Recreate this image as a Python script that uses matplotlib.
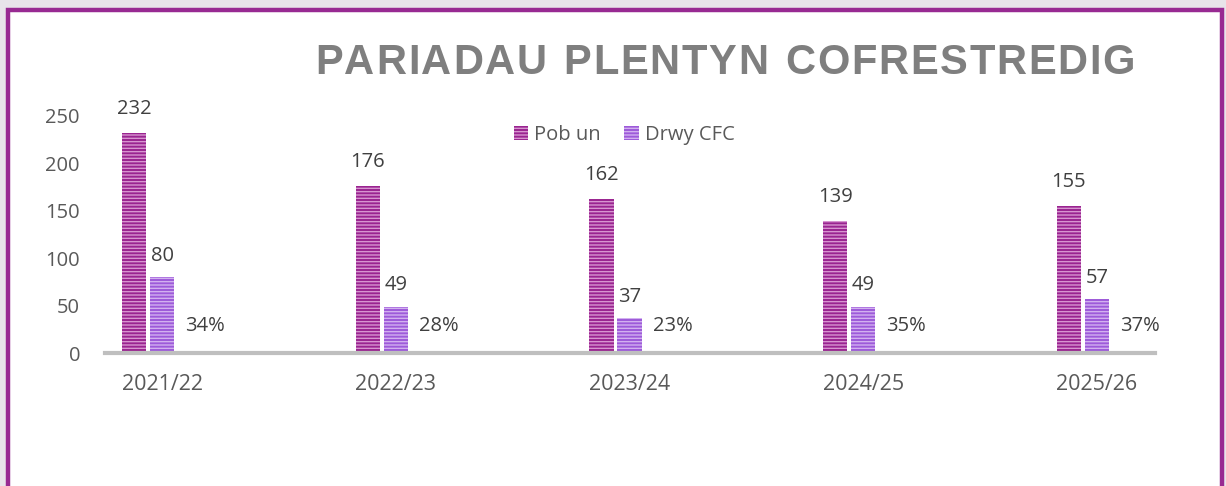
import matplotlib
matplotlib.use("Agg")
import matplotlib.pyplot as plt
from matplotlib.patches import Rectangle
import numpy as np

################################################## Data
years = ["2021/22", "2022/23", "2023/24", "2024/25", "2025/26"]
pob_un = [232, 176, 162, 139, 155]
drwy_cfc = [80, 49, 37, 49, 57]
pct_labels = ["34%", "28%", "23%", "35%", "37%"]

title = "PARIADAU PLENTYN COFRESTREDIG"
series_names = ["Pob un", "Drwy CFC"]

################################################## Style
plt.rcParams["font.family"] = ["Open Sans", "DejaVu Sans"]
plt.rcParams["hatch.linewidth"] = 1.0

txt_col = "#404040"
tick_col = "#595959"
pob_face = "#9a2490"
pob_hatch = "#d795d0"
cfc_face = "#9d5ad9"
cfc_hatch = "#d2b0f0"
fs = 14.5

fig = plt.figure(figsize=(12.26, 4.86), dpi=100)
fig.patch.set_facecolor("#e8e4ea")

W, H = 1226, 486
# white panel with purple frame (pixel coords from top-left)
fig.patches.append(Rectangle((8 / W, -0.05), (1222 - 8) / W, (H - 10) / H + 0.05,
                             transform=fig.transFigure, facecolor="white",
                             edgecolor="#982a92", linewidth=3.2, zorder=-5))

ax = fig.add_axes([105 / W, (H - 353) / H, 1050 / W, 237 / H])
ax.set_facecolor("none")

x = np.arange(len(years))
bw = 0.103
off_pob = -0.12
off_cfc = 0.0
off_pct = 0.184

ax.bar(x + off_pob, pob_un, bw, color=pob_face, edgecolor=pob_hatch,
       hatch="-----", linewidth=0, label=series_names[0], zorder=2)
ax.bar(x + off_cfc, drwy_cfc, bw, color=cfc_face, edgecolor=cfc_hatch,
       hatch="-----", linewidth=0, label=series_names[1], zorder=2)

for i in range(len(years)):
    ax.text(x[i] + off_pob, pob_un[i] + 15, str(pob_un[i]), ha="center",
            va="bottom", fontsize=fs, color=txt_col)
    ax.text(x[i] + off_cfc, drwy_cfc[i] + 12, str(drwy_cfc[i]), ha="center",
            va="bottom", fontsize=fs, color=txt_col)
    ax.text(x[i] + off_pct, 29, pct_labels[i], ha="center", va="center",
            fontsize=fs, color=txt_col)

ax.set_xlim(-0.244, 4.248)
ax.set_ylim(0, 250)
ax.set_yticks([0, 50, 100, 150, 200, 250])
ax.set_xticks(x)
ax.set_xticklabels(years)
ax.tick_params(axis="both", length=0, labelsize=fs, colors=tick_col)
ax.tick_params(axis="x", pad=15, labelsize=15.5)
ax.tick_params(axis="y", pad=18)
for s in ["top", "right", "left"]:
    ax.spines[s].set_visible(False)
ax.spines["bottom"].set_color("#bfbfbf")
ax.spines["bottom"].set_linewidth(3)

leg = ax.legend(loc="center", bbox_to_anchor=(624 / W, (H - 135) / H),
                bbox_transform=fig.transFigure, ncol=2, frameon=False,
                fontsize=fs, handlelength=0.7, handleheight=0.7,
                handletextpad=0.3, columnspacing=1.2)
for t in leg.get_texts():
    t.set_color(tick_col)

# title with letter spacing: place each character separately
renderer = fig.canvas.get_renderer()
t_left, t_right = 315, 1135
t_y = (H - 63) / H
t_kw = dict(fontsize=30, fontweight="bold", color="#7f7f7f",
            family="Liberation Sans", va="center", ha="left")
widths = []
for ch in title:
    tt = fig.text(0, 0, ch if ch != " " else "I", **t_kw)
    w = tt.get_window_extent(renderer).width
    if ch == " ":
        w = w * 1.2
    widths.append(w)
    tt.remove()
gap = (t_right - t_left - sum(widths)) / (len(title) - 1)
px = t_left
for ch, w in zip(title, widths):
    if ch != " ":
        fig.text(px / W, t_y, ch, **t_kw)
    px += w + gap

fig.savefig("out.png", dpi=100, facecolor=fig.get_facecolor())
